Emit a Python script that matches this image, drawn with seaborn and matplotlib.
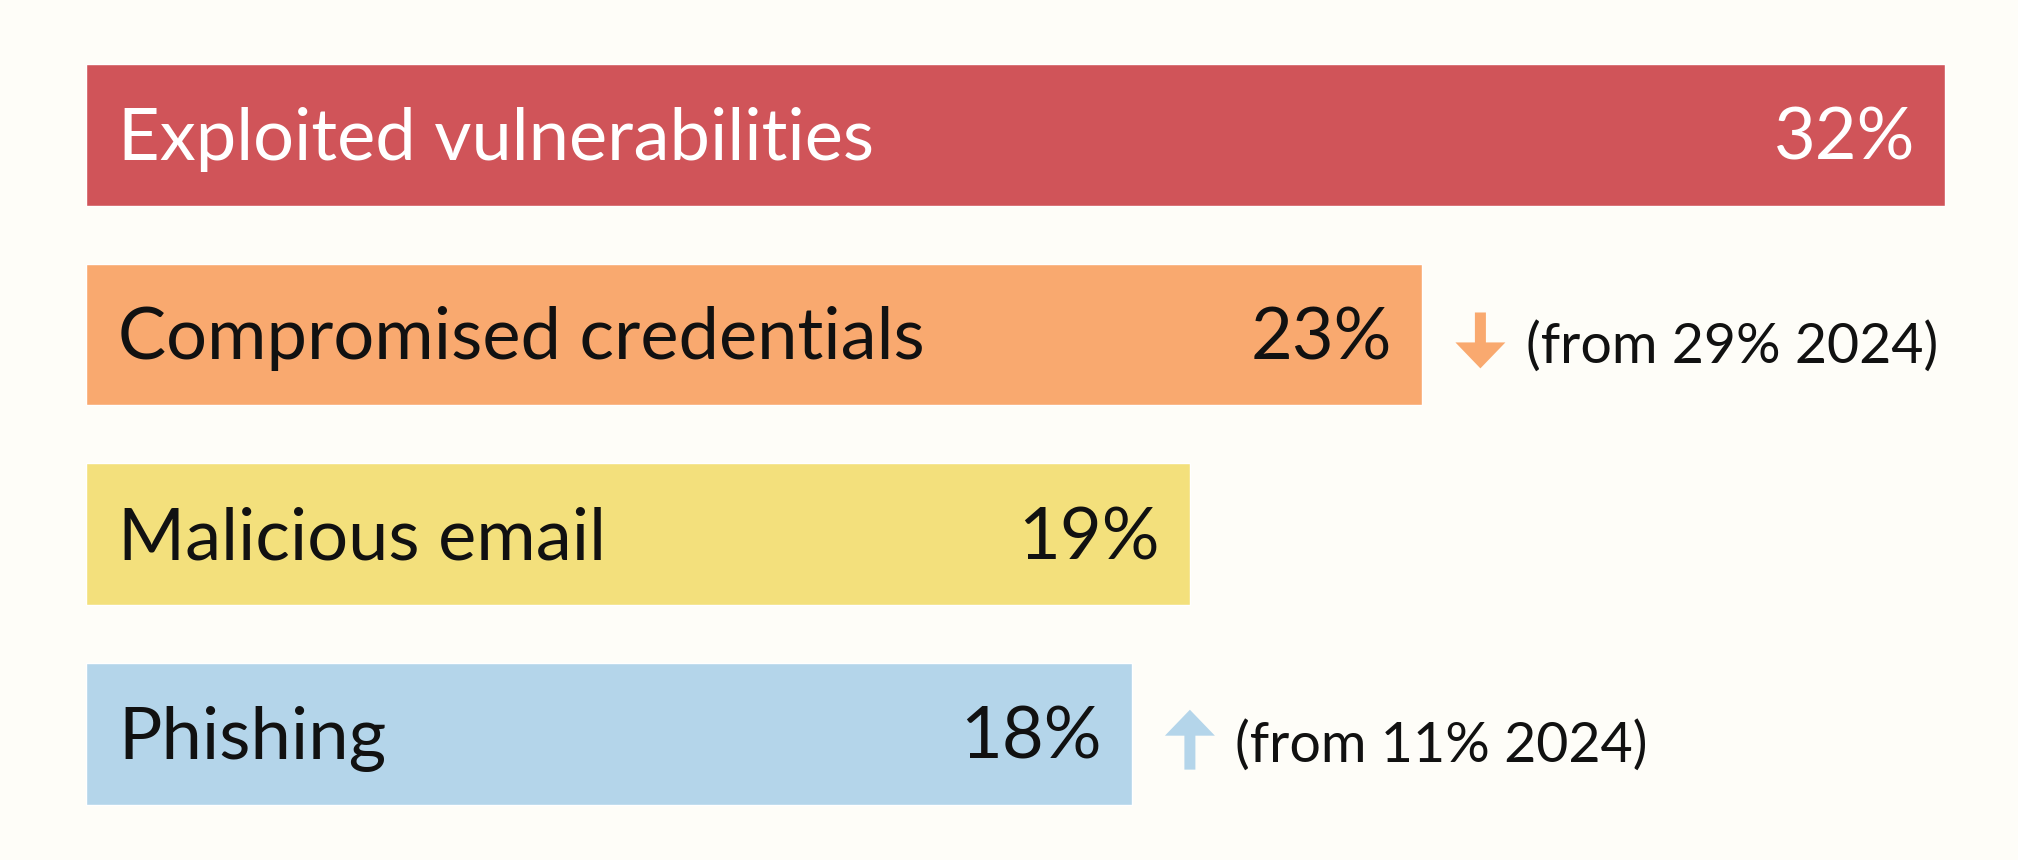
import matplotlib
matplotlib.use("Agg")
import matplotlib.pyplot as plt
import seaborn as sns

# data
categories = ["Exploited vulnerabilities", "Compromised credentials", "Malicious email", "Phishing"]
values = [32, 23, 19, 18]
bar_colors = ["#d05459", "#f9a96f", "#f3e07c", "#b4d5ea"]
label_colors = ["white", "#111111", "#111111", "#111111"]
changes = [None, "(from 29% 2024)", None, "(from 11% 2024)"]
change_dir = [None, "down", None, "up"]

sns.set_theme(style="white")
plt.rcParams["font.family"] = ["Lato", "DejaVu Sans"]

bg = "#fefdf8"
fig = plt.figure(figsize=(20.18, 8.6), dpi=100, facecolor=bg)
# axes: x=0 at 86 px, 58.1 px per unit; rows 199.5 px apart
ax = fig.add_axes([86 / 2018, 26.5 / 860, 1932 / 2018, 798.5 / 860])
ax.set_facecolor(bg)

sns.barplot(x=values, y=categories, hue=categories, palette=bar_colors,
            orient="h", width=0.71, legend=False, saturation=1, ax=ax)

ax.set_xlim(0, 1932 / 58.1)
ax.set_ylim(3.5, -0.5)
ax.axis("off")

px = 1 / 58.1  # one pixel in x data units
for i, (cat, val) in enumerate(zip(categories, values)):
    ax.text(32 * px, i + 0.125, cat, ha="left", va="baseline",
            fontsize=52, color=label_colors[i])
    ax.text(val - 30 * px, i + 0.125, f"{val}%", ha="right", va="baseline",
            fontsize=52, color=label_colors[i])
    if changes[i] is None:
        continue
    ax_x = val + 1.0
    if change_dir[i] == "down":
        ax.arrow(ax_x, i + 0.03 - 0.14, 0, 0.28, width=11 * px, head_width=50 * px,
                 head_length=0.13, length_includes_head=True,
                 color=bar_colors[i], lw=0, clip_on=False)
    else:
        ax.arrow(ax_x, i + 0.03 + 0.15, 0, -0.30, width=11 * px, head_width=50 * px,
                 head_length=0.13, length_includes_head=True,
                 color=bar_colors[i], lw=0, clip_on=False)
    ax.text(val + 1.78, i + 0.14, changes[i], ha="left", va="baseline",
            fontsize=40, color="#111111")

fig.savefig("out.png", dpi=100, facecolor=bg)
